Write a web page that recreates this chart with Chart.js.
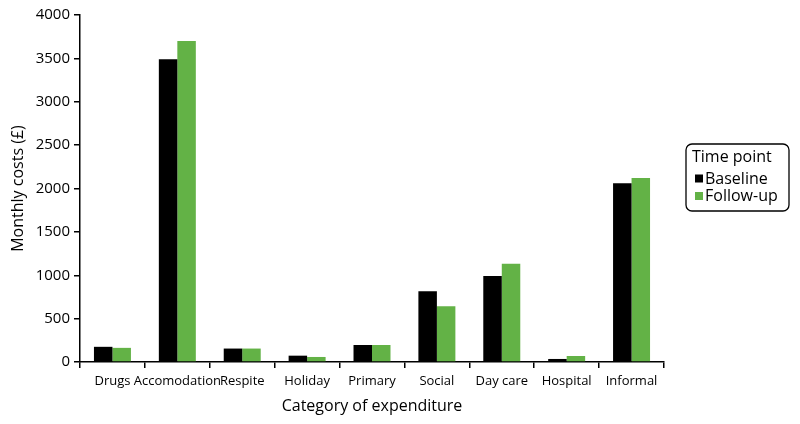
<!DOCTYPE html>
<html>
<head>
<meta charset="utf-8">
<script src="https://cdn.jsdelivr.net/npm/chart.js@4"></script>
<style>
  html, body { margin: 0; padding: 0; background: #fff; }
  #wrap { width: 800px; height: 424px; }
</style>
</head>
<body>
<div id="wrap"><canvas id="myChart" width="800" height="424"></canvas></div>
<script>
const categories = ['Drugs', 'Accomodation', 'Respite', 'Holiday', 'Primary', 'Social', 'Day care', 'Hospital', 'Informal'];
const baseline = [175, 3490, 155, 73, 196, 815, 991, 35, 2060];
const followUp = [163, 3700, 155, 58, 196, 642, 1133, 69, 2121];
const seriesNames = ['Baseline', 'Follow-up'];
const legendTitle = 'Time point';
const yTitle = 'Monthly costs (£)';
const xTitle = 'Category of expenditure';

const FONT = "'Open Sans', sans-serif";

// boxed legend on the right, like the original
const boxLegend = {
    id: 'boxLegend',
    afterDraw(chart) {
        const ctx = chart.ctx;
        const x = 686, y = 144, w = 103, h = 67;
        ctx.save();
        ctx.strokeStyle = '#000';
        ctx.lineWidth = 1.3;
        ctx.beginPath();
        ctx.roundRect(x, y, w, h, 6);
        ctx.stroke();
        ctx.fillStyle = '#000';
        ctx.font = '16px ' + FONT;
        ctx.textBaseline = 'alphabetic';
        ctx.fillText(legendTitle, x + 6, y + 18);
        chart.data.datasets.forEach((ds, i) => {
            const ly = y + 39.5 + i * 17.5;
            ctx.fillStyle = ds.backgroundColor;
            ctx.fillRect(x + 9, ly - 9, 8, 8);
            ctx.fillStyle = '#000';
            ctx.fillText(ds.label, x + 19, ly);
        });
        ctx.restore();
    }
};

new Chart(document.getElementById('myChart'), {
    type: 'bar',
    data: {
        labels: categories,
        datasets: [
            { label: seriesNames[0], data: baseline, backgroundColor: '#000000' },
            { label: seriesNames[1], data: followUp, backgroundColor: '#63b246' }
        ]
    },
    options: {
        responsive: false,
        animation: false,
        categoryPercentage: 0.57,
        barPercentage: 1.0,
        layout: { padding: { left: 4, right: 136, top: 15, bottom: 0 } },
        scales: {
            x: {
                grid: { drawOnChartArea: false, color: '#000', tickLength: 6, lineWidth: 1.5 },
                border: { color: '#000', width: 1.5 },
                ticks: { color: '#000', font: { family: FONT, size: 13 }, maxRotation: 0, autoSkip: false, padding: 5 },
                title: { display: true, text: xTitle, color: '#000', font: { family: FONT, size: 16 }, padding: { top: 0, bottom: 8 } },
                afterFit(scale) { scale.height = 62; }
            },
            y: {
                min: 0,
                max: 4000,
                ticks: {
                    stepSize: 500, color: '#000', padding: 4,
                    font: { family: FONT, size: 15 },
                    callback: v => String(v)
                },
                grid: { drawOnChartArea: false, color: '#000', tickLength: 6, lineWidth: 1.5 },
                border: { color: '#000', width: 1.5 },
                title: { display: true, text: yTitle, color: '#000', font: { family: FONT, size: 16 }, padding: { top: 5, bottom: 4 } },
                afterFit(scale) { scale.width = 76; }
            }
        },
        plugins: {
            legend: { display: false },
            tooltip: { enabled: false }
        }
    },
    plugins: [boxLegend]
});
</script>
</body>
</html>
